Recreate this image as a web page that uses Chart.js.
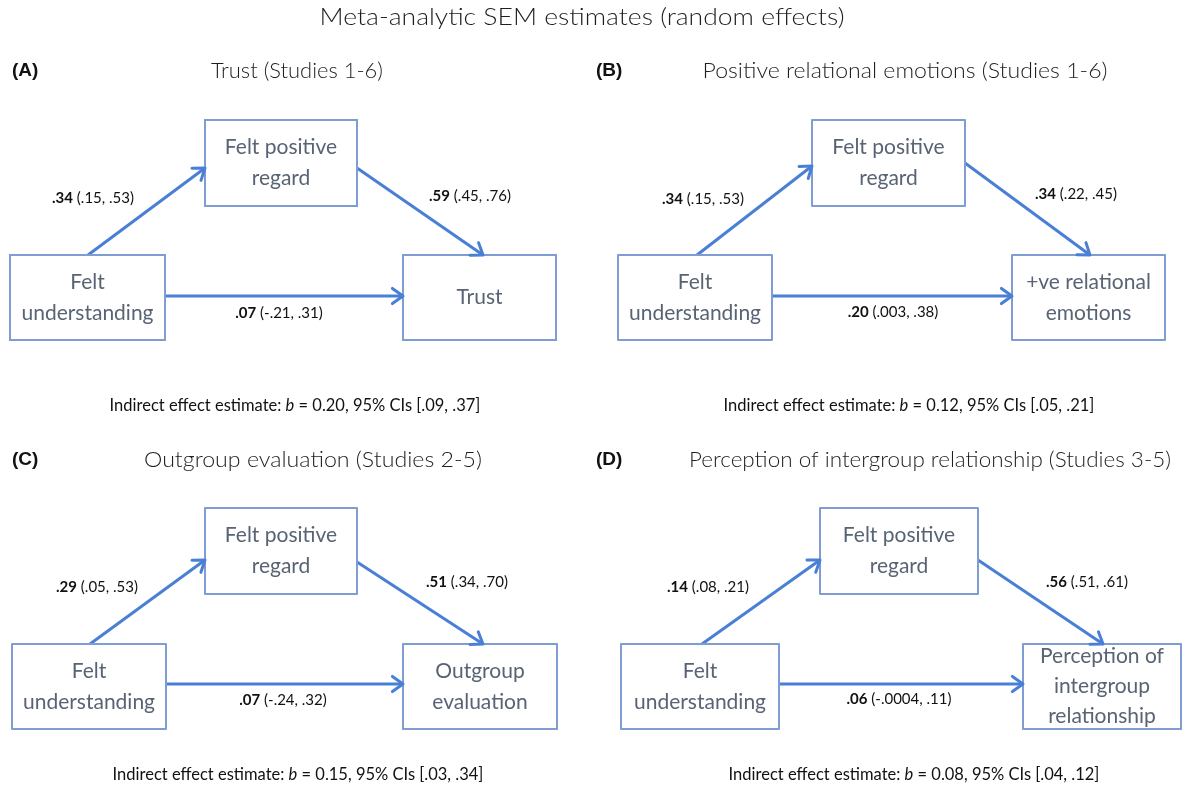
<!DOCTYPE html>
<html>
<head>
<meta charset="utf-8">
<script src="https://cdn.jsdelivr.net/npm/chart.js@4"></script>
<style>
html,body{margin:0;padding:0;background:#fff;}
#wrap{width:1187px;height:787px;position:relative;}
</style>
</head>
<body>
<div id="wrap"><canvas id="c"></canvas></div>
<script>
// ---------- DATA ----------
const mainTitle = 'Meta-analytic SEM estimates (random effects)';
const panelLetters = ['(A)', '(B)', '(C)', '(D)'];
const panelTitles = [
  'Trust (Studies 1-6)',
  'Positive relational emotions (Studies 1-6)',
  'Outgroup evaluation (Studies 2-5)',
  'Perception of intergroup relationship (Studies 3-5)'
];
const predictorLabel = ['Felt', 'understanding'];
const mediatorLabel = ['Felt positive', 'regard'];
const outcomeLabels = [
  ['Trust'],
  ['+ve relational', 'emotions'],
  ['Outgroup', 'evaluation'],
  ['Perception of', 'intergroup', 'relationship']
];
const pathA = ['.34', '.34', '.29', '.14'];
const pathACI = ['(.15, .53)', '(.15, .53)', '(.05, .53)', '(.08, .21)'];
const pathB = ['.59', '.34', '.51', '.56'];
const pathBCI = ['(.45, .76)', '(.22, .45)', '(.34, .70)', '(.51, .61)'];
const pathC = ['.07', '.20', '.07', '.06'];
const pathCCI = ['(-.21, .31)', '(.003, .38)', '(-.24, .32)', '(-.0004, .11)'];
const indirectB = ['0.20', '0.12', '0.15', '0.08'];
const indirectCI = ['[.09, .37]', '[.05, .21]', '[.03, .34]', '[.04, .12]'];

// ---------- LAYOUT (positions in scale units) ----------
const titleLayout = {x:582, y:18, w:525};
const layout = [
  {letterX:12, titleX:297, titleY:71, titleW:172,
   med:[205,120,357,206], pred:[10,255,165,340], out:[403,255,556,340],
   a1:[88,255,205,168], a2:[357,168,483,255], dirY:296,
   la:[93,198], lb:[470,196], lc:[279,313], ind:[295,406]},
  {letterX:596, titleX:905, titleY:71, titleW:405,
   med:[812,120,965,206], pred:[618,255,772,340], out:[1012,255,1165,340],
   a1:[697,255,812,166], a2:[965,163,1090,255], dirY:296,
   la:[703,199], lb:[1076,194], lc:[893,312], ind:[909,406]},
  {letterX:12, titleX:313, titleY:460, titleW:338,
   med:[205,508,357,594], pred:[12,644,166,729], out:[403,644,557,729],
   a1:[90,644,205,560], a2:[357,562,483,644], dirY:684,
   la:[97,587], lb:[467,582], lc:[283,700], ind:[298,775]},
  {letterX:596, titleX:930, titleY:460, titleW:482,
   med:[820,508,978,594], pred:[621,644,779,729], out:[1023,644,1181,729],
   a1:[702,644,820,560], a2:[978,560,1103,644], dirY:684,
   la:[708,587], lb:[1087,582], lc:[899,699], ind:[914,775]}
];

const ARROW = '#4a7fd6';
const BOX = '#7f9dd3';
const BOXTEXT = '#586374';
const BOXFONT = 'Lato, "Open Sans", sans-serif';
const LABFONT = 'Lato, "Open Sans", sans-serif';

// arrow line datasets built from layout
const datasets = [];
layout.forEach(L => {
  [[L.a1[0],L.a1[1],L.a1[2],L.a1[3]],
   [L.a2[0],L.a2[1],L.a2[2],L.a2[3]],
   [L.pred[2],L.dirY,L.out[0],L.dirY]].forEach(s => {
    datasets.push({
      data:[{x:s[0],y:s[1]},{x:s[2],y:s[3]}],
      showLine:true, borderColor:ARROW, borderWidth:3,
      pointRadius:0, fill:false, tension:0
    });
  });
});

const diagramPlugin = {
  id:'diagram',
  afterDatasetsDraw(chart){
    const ctx = chart.ctx;
    const X = v => chart.scales.x.getPixelForValue(v);
    const Y = v => chart.scales.y.getPixelForValue(v);
    ctx.save();
    ctx.textBaseline = 'middle';

    function fitText(text, cx, cy, w, font, color){
      ctx.font = font; ctx.fillStyle = color; ctx.textAlign = 'center';
      const nat = ctx.measureText(text).width;
      ctx.save();
      ctx.translate(X(cx), Y(cy));
      ctx.scale(w/nat, 1);
      ctx.fillText(text, 0, 0);
      ctx.restore();
    }

    fitText(mainTitle, titleLayout.x, titleLayout.y, titleLayout.w, '300 23px ' + BOXFONT, '#1e1e1e');

    function arrowHead(x1,y1,x2,y2){
      const ang = Math.atan2(Y(y2)-Y(y1), X(x2)-X(x1));
      const len = 13, spread = 0.62;
      ctx.strokeStyle = ARROW; ctx.lineWidth = 3; ctx.lineCap='round'; ctx.lineJoin='round';
      ctx.beginPath();
      ctx.moveTo(X(x2)-len*Math.cos(ang-spread), Y(y2)-len*Math.sin(ang-spread));
      ctx.lineTo(X(x2), Y(y2));
      ctx.lineTo(X(x2)-len*Math.cos(ang+spread), Y(y2)-len*Math.sin(ang+spread));
      ctx.stroke();
    }
    function box(r, lines){
      ctx.strokeStyle = BOX; ctx.lineWidth = 2;
      ctx.strokeRect(X(r[0]), Y(r[1]), X(r[2])-X(r[0]), Y(r[3])-Y(r[1]));
      ctx.fillStyle = BOXTEXT;
      ctx.font = '21px ' + BOXFONT;
      ctx.textAlign = 'center';
      const cx = (X(r[0])+X(r[2]))/2, cy = (Y(r[1])+Y(r[3]))/2;
      const lh = lines.length > 2 ? 30 : 31;
      lines.forEach((t,i) => {
        ctx.fillText(t, cx, cy + (i-(lines.length-1)/2)*lh);
      });
    }
    function pathLabel(pos, bold, rest){
      ctx.fillStyle = '#111';
      ctx.textAlign = 'left';
      const fb = 'bold 15px ' + LABFONT, fr = '15px ' + LABFONT;
      ctx.font = fb; const wb = ctx.measureText(bold).width;
      ctx.font = fr; const wr = ctx.measureText(' ' + rest).width;
      let x = X(pos[0]) - (wb+wr)/2;
      ctx.font = fb; ctx.fillText(bold, x, Y(pos[1]));
      ctx.font = fr; ctx.fillText(' ' + rest, x+wb, Y(pos[1]));
    }
    function indirect(pos, b, ci){
      const parts = [
        ['16.5px ' + LABFONT, 'Indirect effect estimate: '],
        ['italic 16.5px ' + LABFONT, 'b'],
        ['16.5px ' + LABFONT, ' = ' + b + ', 95% CIs ' + ci]
      ];
      let tot = 0;
      parts.forEach(p => { ctx.font = p[0]; tot += ctx.measureText(p[1]).width; });
      let x = X(pos[0]) - tot/2;
      ctx.fillStyle = '#111'; ctx.textAlign = 'left';
      parts.forEach(p => { ctx.font = p[0]; ctx.fillText(p[1], x, Y(pos[1])); x += ctx.measureText(p[1]).width; });
    }

    layout.forEach((L, i) => {
      ctx.fillStyle = '#111'; ctx.textAlign = 'left';
      ctx.font = 'bold 19px "Liberation Sans", Arial, sans-serif';
      ctx.fillText(panelLetters[i], X(L.letterX), Y(L.titleY));
      fitText(panelTitles[i], L.titleX, L.titleY, L.titleW, '300 22px ' + BOXFONT, '#1e1e1e');
      box(L.med, mediatorLabel);
      box(L.pred, predictorLabel);
      box(L.out, outcomeLabels[i]);
      arrowHead(...L.a1);
      arrowHead(...L.a2);
      arrowHead(L.pred[2], L.dirY, L.out[0], L.dirY);
      pathLabel(L.la, pathA[i], pathACI[i]);
      pathLabel(L.lb, pathB[i], pathBCI[i]);
      pathLabel(L.lc, pathC[i], pathCCI[i]);
      indirect(L.ind, indirectB[i], indirectCI[i]);
    });
    ctx.restore();
  }
};

new Chart(document.getElementById('c'), {
  type:'scatter',
  data:{datasets},
  options:{
    responsive:true, maintainAspectRatio:false, animation:false,
    layout:{padding:0},
    plugins:{legend:{display:false}, tooltip:{enabled:false}},
    scales:{
      x:{type:'linear', min:0, max:1187, display:false},
      y:{type:'linear', min:0, max:787, reverse:true, display:false}
    }
  },
  plugins:[diagramPlugin]
});
</script>
</body>
</html>
